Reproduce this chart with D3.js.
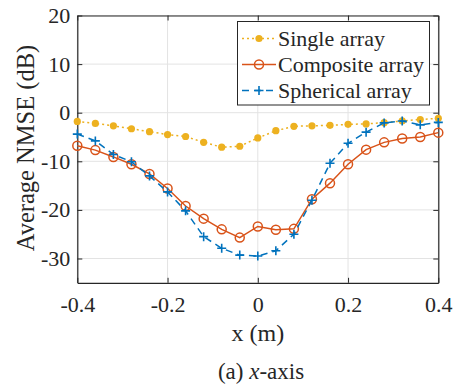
<!DOCTYPE html>
<html>
<head>
<meta charset="utf-8">
<script src="https://cdn.jsdelivr.net/npm/d3@7"></script>
<style>
  body { margin: 0; background: #fff; }
  text { font-family: "Liberation Serif", "Times New Roman", "DejaVu Serif", serif; fill: #262626; }
</style>
</head>
<body>
<div id="chart"></div>
<script>
// positions along x (m)
var xPos = [-0.4, -0.36, -0.32, -0.28, -0.24, -0.2, -0.16, -0.12, -0.08, -0.04, 0,
            0.04, 0.08, 0.12, 0.16, 0.2, 0.24, 0.28, 0.32, 0.36, 0.4];

var singleArr = [-1.8, -2.2, -2.7, -3.3, -3.9, -4.5, -4.9, -6.1, -7.1, -6.9, -5.2,
                 -3.7, -2.8, -2.7, -2.6, -2.4, -2.3, -2.05, -1.7, -1.4, -1.15];
var compositeArr = [-6.8, -7.7, -9.1, -10.6, -12.6, -15.6, -19.2, -21.8, -24.0, -25.7, -23.4,
                    -24.1, -23.9, -17.8, -14.5, -10.6, -7.6, -6.1, -5.3, -5.0, -4.1];
var sphericalArr = [-4.4, -5.8, -8.6, -10.1, -13.0, -16.3, -20.2, -25.5, -27.9, -29.3, -29.5,
                    -28.4, -25.0, -18.0, -10.4, -6.3, -4.0, -2.1, -1.7, -2.5, -2.0];

var seriesNames = ["Single array", "Composite array", "Spherical array"];
var xTicks = [-0.4, -0.2, 0, 0.2, 0.4];
var yTicks = [-30, -20, -10, 0, 10, 20];

var width = 456, height = 385;
var pL = 77.3, pR = 438.3, pT = 15.5, pB = 282.8;

var colors = ["#EDB120", "#D95319", "#0072BD"];

var svg = d3.select("#chart").append("svg")
    .attr("width", width)
    .attr("height", height);

var x = d3.scaleLinear().domain([-0.4, 0.4]).range([pL, pR]);
var y = d3.scaleLinear().domain([-35, 20]).range([pB, pT]);

// grid
svg.append("g").selectAll("line")
    .data(xTicks)
    .enter().append("line")
    .attr("x1", function(d) { return x(d); })
    .attr("x2", function(d) { return x(d); })
    .attr("y1", pT).attr("y2", pB)
    .attr("stroke", "#e3e3e3").attr("stroke-width", 1);

svg.append("g").selectAll("line")
    .data(yTicks)
    .enter().append("line")
    .attr("x1", pL).attr("x2", pR)
    .attr("y1", function(d) { return y(d); })
    .attr("y2", function(d) { return y(d); })
    .attr("stroke", "#e3e3e3").attr("stroke-width", 1);

// axes (ticks inward, box on)
var fmt = function(d) { return d === 0 ? "0" : String(d); };

svg.append("g")
    .attr("transform", "translate(0," + pB + ")")
    .call(d3.axisBottom(x).tickValues(xTicks).tickSizeInner(-5).tickSizeOuter(0).tickPadding(14)
        .tickFormat(fmt));
svg.append("g")
    .attr("transform", "translate(" + pL + ",0)")
    .call(d3.axisLeft(y).tickValues(yTicks).tickSizeInner(-5).tickSizeOuter(0).tickPadding(7)
        .tickFormat(fmt));
svg.append("g")
    .attr("transform", "translate(0," + pT + ")")
    .call(d3.axisTop(x).tickValues(xTicks).tickSizeInner(-5).tickSizeOuter(0).tickFormat(""));
svg.append("g")
    .attr("transform", "translate(" + pR + ",0)")
    .call(d3.axisRight(y).tickValues(yTicks).tickSizeInner(-5).tickSizeOuter(0).tickFormat(""));

svg.selectAll(".domain").attr("stroke", "#262626").attr("stroke-width", 1.2);
svg.selectAll(".tick line").attr("stroke", "#262626");
svg.selectAll(".tick text")
    .attr("font-family", null)
    .style("font-size", "22px")
    .attr("fill", "#262626");

// axis labels
svg.append("text")
    .attr("x", (pL + pR) / 2)
    .attr("y", 341)
    .attr("text-anchor", "middle")
    .style("font-size", "24px")
    .text("x (m)");

svg.append("text")
    .attr("transform", "translate(34," + 148 + ") rotate(-90)")
    .attr("text-anchor", "middle")
    .style("font-size", "24.5px")
    .text("Average NMSE (dB)");

var cap = svg.append("text")
    .attr("x", 261)
    .attr("y", 379)
    .attr("text-anchor", "middle")
    .style("font-size", "23px");
cap.append("tspan").text("(a) ");
cap.append("tspan").style("font-style", "italic").text("x");
cap.append("tspan").text("-axis");

// lines
var dataSets = [singleArr, compositeArr, sphericalArr];
var dashes = ["2,3", null, "7,5"];

var line = d3.line()
    .x(function(d) { return x(d[0]); })
    .y(function(d) { return y(d[1]); });

var plot = svg.append("g");

function drawMarker(g, i, cx, cy) {
    if (i === 0) {
        g.append("circle").attr("cx", cx).attr("cy", cy).attr("r", 3.6)
            .attr("fill", colors[0]);
    } else if (i === 1) {
        g.append("circle").attr("cx", cx).attr("cy", cy).attr("r", 4.5)
            .attr("fill", "none").attr("stroke", colors[1]).attr("stroke-width", 1.5);
    } else {
        g.append("path")
            .attr("d", "M" + (cx - 4.5) + "," + cy + "H" + (cx + 4.5) + "M" + cx + "," + (cy - 4.5) + "V" + (cy + 4.5))
            .attr("stroke", colors[2]).attr("stroke-width", 1.6);
    }
}

dataSets.forEach(function(vals, i) {
    var pts = xPos.map(function(xv, j) { return [xv, vals[j]]; });
    plot.append("path")
        .datum(pts)
        .attr("d", line)
        .attr("fill", "none")
        .attr("stroke", colors[i])
        .attr("stroke-width", 1.5)
        .attr("stroke-dasharray", dashes[i]);
    pts.forEach(function(p) {
        drawMarker(plot, i, x(p[0]), y(p[1]));
    });
});

// legend
var lg = svg.append("g");
lg.append("rect")
    .attr("x", 237.5).attr("y", 21.5)
    .attr("width", 192).attr("height", 83.5)
    .attr("fill", "#fff").attr("stroke", "#262626").attr("stroke-width", 1);

seriesNames.forEach(function(name, i) {
    var ly = 38.5 + i * 26;
    lg.append("line")
        .attr("x1", 242).attr("x2", 276)
        .attr("y1", ly).attr("y2", ly)
        .attr("stroke", colors[i]).attr("stroke-width", 1.5)
        .attr("stroke-dasharray", dashes[i]);
    drawMarker(lg, i, 259, ly);
    lg.append("text")
        .attr("x", 278).attr("y", ly + 7.5)
        .style("font-size", "22px")
        .attr("fill", "#000")
        .text(name);
});
</script>
</body>
</html>
